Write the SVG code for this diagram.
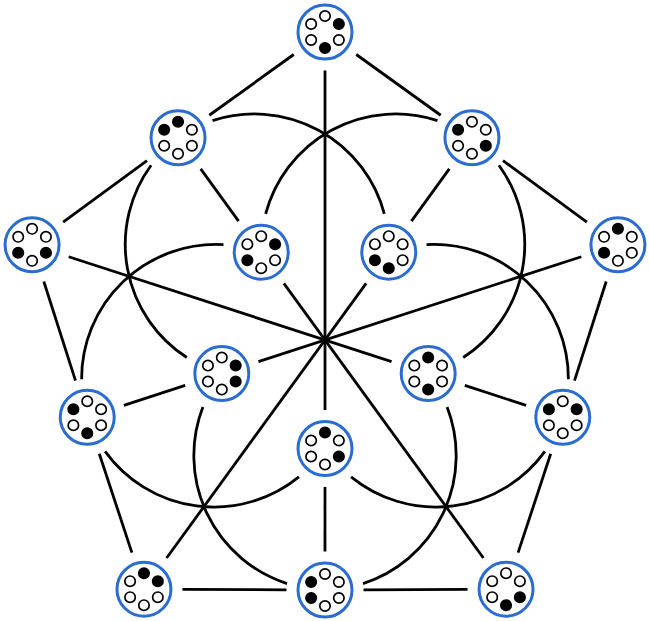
<svg xmlns="http://www.w3.org/2000/svg" xmlns:xlink="http://www.w3.org/1999/xlink" width="649" height="621" viewBox="0 0 649 621">
<style>
.edge{fill:none;stroke:#000;stroke-width:2.8;stroke-linecap:butt}
.ring{fill:#fff;stroke:#2b6cd0;stroke-width:3}
.off{fill:#fff;stroke:#000;stroke-width:1.7}
.on{fill:#000;stroke:#000;stroke-width:1.7}
</style>
<rect width="649" height="621" fill="#fff"/>
<g id="connectors">
<g id="sector0">
<line class="edge" x1="356.25" y1="54.49" x2="440.70" y2="115.26"/>
<line class="edge" x1="293.75" y1="54.49" x2="209.30" y2="115.26"/>
<line class="edge" x1="449.32" y1="168.90" x2="411.40" y2="221.07"/>
<line class="edge" x1="325" y1="70.5" x2="325" y2="410"/>
<path class="edge" d="M212.55 120.64 A134.43 134.43 0 0 1 384.35 213.96"/>
<path class="edge" d="M437.45 120.64 A134.43 134.43 0 0 0 265.65 213.96"/>
</g>
<g id="sector1" transform="rotate(72 325 340)">
<line class="edge" x1="356.25" y1="54.49" x2="440.70" y2="115.26"/>
<line class="edge" x1="293.75" y1="54.49" x2="209.30" y2="115.26"/>
<line class="edge" x1="449.32" y1="168.90" x2="411.40" y2="221.07"/>
<line class="edge" x1="325" y1="70.5" x2="325" y2="410"/>
<path class="edge" d="M212.55 120.64 A134.43 134.43 0 0 1 384.35 213.96"/>
<path class="edge" d="M437.45 120.64 A134.43 134.43 0 0 0 265.65 213.96"/>
</g>
<g id="sector2" transform="rotate(144 325 340)">
<line class="edge" x1="356.25" y1="54.49" x2="440.70" y2="115.26"/>
<line class="edge" x1="293.75" y1="54.49" x2="209.30" y2="115.26"/>
<line class="edge" x1="449.32" y1="168.90" x2="411.40" y2="221.07"/>
<line class="edge" x1="325" y1="70.5" x2="325" y2="410"/>
<path class="edge" d="M212.55 120.64 A134.43 134.43 0 0 1 384.35 213.96"/>
<path class="edge" d="M437.45 120.64 A134.43 134.43 0 0 0 265.65 213.96"/>
</g>
<g id="sector3" transform="rotate(216 325 340)">
<line class="edge" x1="356.25" y1="54.49" x2="440.70" y2="115.26"/>
<line class="edge" x1="293.75" y1="54.49" x2="209.30" y2="115.26"/>
<line class="edge" x1="449.32" y1="168.90" x2="411.40" y2="221.07"/>
<line class="edge" x1="325" y1="70.5" x2="325" y2="410"/>
<path class="edge" d="M212.55 120.64 A134.43 134.43 0 0 1 384.35 213.96"/>
<path class="edge" d="M437.45 120.64 A134.43 134.43 0 0 0 265.65 213.96"/>
</g>
<g id="sector4" transform="rotate(288 325 340)">
<line class="edge" x1="356.25" y1="54.49" x2="440.70" y2="115.26"/>
<line class="edge" x1="293.75" y1="54.49" x2="209.30" y2="115.26"/>
<line class="edge" x1="449.32" y1="168.90" x2="411.40" y2="221.07"/>
<line class="edge" x1="325" y1="70.5" x2="325" y2="410"/>
<path class="edge" d="M212.55 120.64 A134.43 134.43 0 0 1 384.35 213.96"/>
<path class="edge" d="M437.45 120.64 A134.43 134.43 0 0 0 265.65 213.96"/>
</g>
</g>
<g id="nodes">
<g id="nA" transform="translate(325 32)"><circle class="ring" r="27"/><circle class="off" cx="0" cy="-16" r="5.2"/><circle class="on" cx="13.86" cy="-8" r="5.2"/><circle class="off" cx="13.86" cy="8" r="5.2"/><circle class="on" cx="0" cy="16" r="5.2"/><circle class="off" cx="-13.86" cy="8" r="5.2"/><circle class="off" cx="-13.86" cy="-8" r="5.2"/></g>
<g id="nB" transform="translate(178.05 137.75)"><circle class="ring" r="27"/><circle class="on" cx="0" cy="-16" r="5.2"/><circle class="off" cx="13.86" cy="-8" r="5.2"/><circle class="off" cx="13.86" cy="8" r="5.2"/><circle class="off" cx="0" cy="16" r="5.2"/><circle class="off" cx="-13.86" cy="8" r="5.2"/><circle class="on" cx="-13.86" cy="-8" r="5.2"/></g>
<g id="nC" transform="translate(471.95 137.75)"><circle class="ring" r="27"/><circle class="off" cx="0" cy="-16" r="5.2"/><circle class="off" cx="13.86" cy="-8" r="5.2"/><circle class="on" cx="13.86" cy="8" r="5.2"/><circle class="off" cx="0" cy="16" r="5.2"/><circle class="off" cx="-13.86" cy="8" r="5.2"/><circle class="on" cx="-13.86" cy="-8" r="5.2"/></g>
<g id="nD" transform="translate(388.77 252.22)"><circle class="ring" r="27"/><circle class="off" cx="0" cy="-16" r="5.2"/><circle class="off" cx="13.86" cy="-8" r="5.2"/><circle class="off" cx="13.86" cy="8" r="5.2"/><circle class="on" cx="0" cy="16" r="5.2"/><circle class="on" cx="-13.86" cy="8" r="5.2"/><circle class="off" cx="-13.86" cy="-8" r="5.2"/></g>
<g id="nE" transform="translate(261.23 252.22)"><circle class="ring" r="27"/><circle class="off" cx="0" cy="-16" r="5.2"/><circle class="on" cx="13.86" cy="-8" r="5.2"/><circle class="off" cx="13.86" cy="8" r="5.2"/><circle class="off" cx="0" cy="16" r="5.2"/><circle class="on" cx="-13.86" cy="8" r="5.2"/><circle class="off" cx="-13.86" cy="-8" r="5.2"/></g>
<g id="nF" transform="translate(32.07 244.82)"><circle class="ring" r="27"/><circle class="off" cx="0" cy="-16" r="5.2"/><circle class="off" cx="13.86" cy="-8" r="5.2"/><circle class="on" cx="13.86" cy="8" r="5.2"/><circle class="off" cx="0" cy="16" r="5.2"/><circle class="on" cx="-13.86" cy="8" r="5.2"/><circle class="off" cx="-13.86" cy="-8" r="5.2"/></g>
<g id="nG" transform="translate(87.24 417.25)"><circle class="ring" r="27"/><circle class="off" cx="0" cy="-16" r="5.2"/><circle class="off" cx="13.86" cy="-8" r="5.2"/><circle class="off" cx="13.86" cy="8" r="5.2"/><circle class="on" cx="0" cy="16" r="5.2"/><circle class="off" cx="-13.86" cy="8" r="5.2"/><circle class="on" cx="-13.86" cy="-8" r="5.2"/></g>
<g id="nH" transform="translate(617.93 244.82)"><circle class="ring" r="27"/><circle class="on" cx="0" cy="-16" r="5.2"/><circle class="off" cx="13.86" cy="-8" r="5.2"/><circle class="off" cx="13.86" cy="8" r="5.2"/><circle class="off" cx="0" cy="16" r="5.2"/><circle class="on" cx="-13.86" cy="8" r="5.2"/><circle class="off" cx="-13.86" cy="-8" r="5.2"/></g>
<g id="nI" transform="translate(562.76 417.25)"><circle class="ring" r="27"/><circle class="off" cx="0" cy="-16" r="5.2"/><circle class="on" cx="13.86" cy="-8" r="5.2"/><circle class="off" cx="13.86" cy="8" r="5.2"/><circle class="off" cx="0" cy="16" r="5.2"/><circle class="off" cx="-13.86" cy="8" r="5.2"/><circle class="on" cx="-13.86" cy="-8" r="5.2"/></g>
<g id="nJ" transform="translate(221.81 373.53)"><circle class="ring" r="27"/><circle class="off" cx="0" cy="-16" r="5.2"/><circle class="on" cx="13.86" cy="-8" r="5.2"/><circle class="on" cx="13.86" cy="8" r="5.2"/><circle class="off" cx="0" cy="16" r="5.2"/><circle class="off" cx="-13.86" cy="8" r="5.2"/><circle class="off" cx="-13.86" cy="-8" r="5.2"/></g>
<g id="nK" transform="translate(428.19 373.53)"><circle class="ring" r="27"/><circle class="on" cx="0" cy="-16" r="5.2"/><circle class="off" cx="13.86" cy="-8" r="5.2"/><circle class="off" cx="13.86" cy="8" r="5.2"/><circle class="on" cx="0" cy="16" r="5.2"/><circle class="off" cx="-13.86" cy="8" r="5.2"/><circle class="off" cx="-13.86" cy="-8" r="5.2"/></g>
<g id="nL" transform="translate(325 448.5)"><circle class="ring" r="27"/><circle class="on" cx="0" cy="-16" r="5.2"/><circle class="off" cx="13.86" cy="-8" r="5.2"/><circle class="on" cx="13.86" cy="8" r="5.2"/><circle class="off" cx="0" cy="16" r="5.2"/><circle class="off" cx="-13.86" cy="8" r="5.2"/><circle class="off" cx="-13.86" cy="-8" r="5.2"/></g>
<g id="nM" transform="translate(143.96 589.18)"><circle class="ring" r="27"/><circle class="on" cx="0" cy="-16" r="5.2"/><circle class="on" cx="13.86" cy="-8" r="5.2"/><circle class="off" cx="13.86" cy="8" r="5.2"/><circle class="off" cx="0" cy="16" r="5.2"/><circle class="off" cx="-13.86" cy="8" r="5.2"/><circle class="off" cx="-13.86" cy="-8" r="5.2"/></g>
<g id="nN" transform="translate(325 590)"><circle class="ring" r="27"/><circle class="off" cx="0" cy="-16" r="5.2"/><circle class="off" cx="13.86" cy="-8" r="5.2"/><circle class="off" cx="13.86" cy="8" r="5.2"/><circle class="off" cx="0" cy="16" r="5.2"/><circle class="on" cx="-13.86" cy="8" r="5.2"/><circle class="on" cx="-13.86" cy="-8" r="5.2"/></g>
<g id="nO" transform="translate(506.04 589.18)"><circle class="ring" r="27"/><circle class="off" cx="0" cy="-16" r="5.2"/><circle class="off" cx="13.86" cy="-8" r="5.2"/><circle class="on" cx="13.86" cy="8" r="5.2"/><circle class="on" cx="0" cy="16" r="5.2"/><circle class="off" cx="-13.86" cy="8" r="5.2"/><circle class="off" cx="-13.86" cy="-8" r="5.2"/></g>
</g>
</svg>
